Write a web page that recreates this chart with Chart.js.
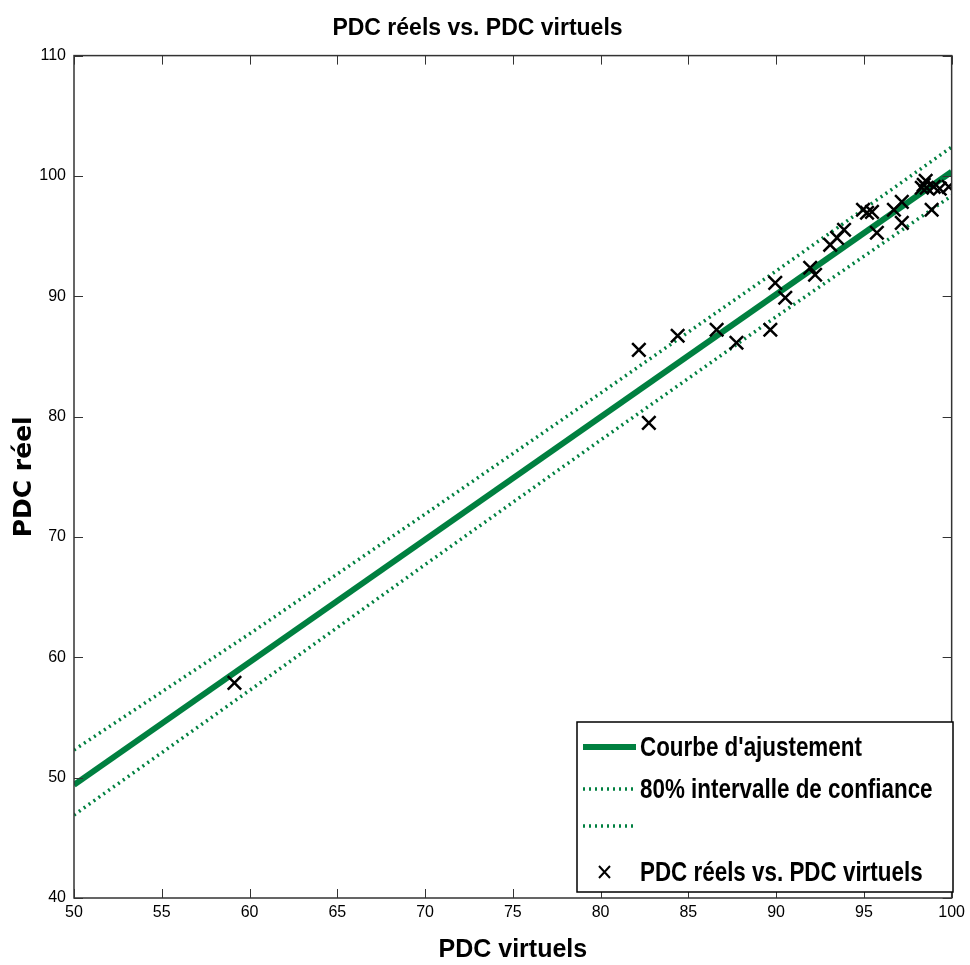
<!DOCTYPE html>
<html>
<head>
<meta charset="utf-8">
<script src="https://cdn.jsdelivr.net/npm/chart.js@4.4.0/dist/chart.umd.min.js"></script>
<style>
  html, body { margin: 0; padding: 0; background: #fff; }
  #wrap { width: 970px; height: 965px; }
</style>
</head>
<body>
<div id="wrap"><canvas id="myChart" width="970" height="965"></canvas></div>
<script>
// data
const fitX = [50, 100];
const fitY = [49.4, 100.35];
const bandX = [50, 60, 70, 80, 90, 100];
const upperY = [52.3, 61.95, 71.9, 81.95, 92.1, 102.4];
const lowerY = [46.9, 57.25, 67.7, 78.05, 88.3, 98.35];
const virtuels = [59.14, 82.18, 82.75, 84.39, 86.61, 87.74, 89.67, 89.95, 90.52, 91.94, 92.22, 93.08, 93.47, 93.87,
                  94.95, 95.18, 95.46, 95.74, 96.71, 97.16, 97.16, 98.3, 98.41, 98.52, 98.58, 98.98, 98.86, 99.32, 99.83];
const reels = [57.87, 85.55, 79.48, 86.72, 87.22, 86.14, 87.22, 91.12, 89.88, 92.37, 91.79, 94.28, 94.86, 95.53,
               97.19, 96.94, 97.02, 95.28, 97.19, 97.85, 96.1, 99.02, 99.27, 99.6, 99.02, 99.1, 97.19, 98.94, 99.1];
const xTicks = [50, 55, 60, 65, 70, 75, 80, 85, 90, 95, 100];
const yTicks = [40, 50, 60, 70, 80, 90, 100, 110];

const green = '#008040';
const sans = '"Liberation Sans", Arial, sans-serif';

const pts = (xs, ys) => xs.map((x, i) => ({x: x, y: ys[i]}));

// box, inward ticks on four sides, legend inside the plot
const matlabLook = {
  id: 'matlabLook',
  afterDraw(chart) {
    const ctx = chart.ctx, a = chart.chartArea;
    const sx = chart.scales.x, sy = chart.scales.y;
    ctx.save();
    ctx.strokeStyle = '#333';
    ctx.lineWidth = 1.5;
    ctx.strokeRect(a.left, a.top, a.right - a.left, a.bottom - a.top);
    ctx.lineWidth = 1;
    ctx.beginPath();
    xTicks.forEach(v => {
      const p = Math.round(sx.getPixelForValue(v)) + 0.5;
      ctx.moveTo(p, a.bottom); ctx.lineTo(p, a.bottom - 9);
      ctx.moveTo(p, a.top); ctx.lineTo(p, a.top + 9);
    });
    yTicks.forEach(v => {
      const p = Math.round(sy.getPixelForValue(v)) + 0.5;
      ctx.moveTo(a.left, p); ctx.lineTo(a.left + 9, p);
      ctx.moveTo(a.right, p); ctx.lineTo(a.right - 9, p);
    });
    ctx.stroke();

    // legend
    const bx = 577, by = 722, bw = 376, bh = 170;
    ctx.fillStyle = '#fff';
    ctx.fillRect(bx, by, bw, bh);
    ctx.strokeStyle = '#000';
    ctx.lineWidth = 1.5;
    ctx.strokeRect(bx, by, bw, bh);
    const rows = [747, 789, 826, 872];
    chart.data.datasets.forEach((ds, i) => {
      const y = rows[i];
      ctx.save();
      if (ds.showLine) {
        ctx.strokeStyle = ds.borderColor;
        ctx.lineWidth = ds.borderWidth;
        ctx.setLineDash(ds.borderDash || []);
        ctx.beginPath();
        ctx.moveTo(583, y); ctx.lineTo(636, y);
        ctx.stroke();
      } else {
        ctx.strokeStyle = '#000';
        ctx.lineWidth = 2;
        ctx.beginPath();
        ctx.moveTo(599, y - 6); ctx.lineTo(610, y + 6);
        ctx.moveTo(610, y - 6); ctx.lineTo(599, y + 6);
        ctx.stroke();
      }
      ctx.restore();
      if (ds.label) {
        // condensed bold text, as in the original
        ctx.save();
        ctx.translate(640, y + 1);
        ctx.scale(0.8, 1);
        ctx.font = 'bold 28px ' + sans;
        ctx.textBaseline = 'middle';
        ctx.textAlign = 'left';
        ctx.fillStyle = '#000';
        ctx.fillText(ds.label, 0, 0);
        ctx.restore();
      }
    });
    ctx.restore();
  }
};

const ctx = document.getElementById('myChart').getContext('2d');
new Chart(ctx, {
  type: 'scatter',
  data: {
    datasets: [
      {label: "Courbe d'ajustement", data: pts(fitX, fitY), showLine: true, borderColor: green,
       borderWidth: 6, pointRadius: 0, order: 3},
      {label: '80% intervalle de confiance', data: pts(bandX, upperY), showLine: true, borderColor: green,
       borderWidth: 3.5, borderDash: [2, 4], pointRadius: 0, order: 2},
      {label: '', data: pts(bandX, lowerY), showLine: true, borderColor: green,
       borderWidth: 3.5, borderDash: [2, 4], pointRadius: 0, order: 2},
      {label: 'PDC réels vs. PDC virtuels', data: pts(virtuels, reels), showLine: false,
       pointStyle: 'crossRot', pointRadius: 9.5, pointBorderWidth: 2.5, borderColor: '#000',
       backgroundColor: '#000', order: 1}
    ]
  },
  options: {
    responsive: false,
    animation: false,
    layout: {padding: {left: 0, right: 15, top: 0, bottom: 0}},
    plugins: {
      legend: {display: false},
      tooltip: {enabled: false},
      title: {
        display: true,
        text: 'PDC réels vs. PDC virtuels',
        color: '#000',
        font: {family: sans, size: 23, weight: 'bold'},
        padding: {top: 15, bottom: 13}
      }
    },
    scales: {
      x: {
        type: 'linear', min: 50, max: 100,
        afterBuildTicks: s => { s.ticks = xTicks.map(v => ({value: v})); },
        afterFit: s => { s.height = 67; },
        grid: {display: false, drawTicks: false},
        border: {display: false},
        ticks: {color: '#000', padding: 5, font: {family: sans, size: 16}, maxRotation: 0},
        title: {display: true, text: 'PDC virtuels', color: '#000',
                font: {family: sans, size: 25, weight: 'bold'}, padding: {top: 4, bottom: 0}}
      },
      y: {
        type: 'linear', min: 40, max: 110,
        afterBuildTicks: s => { s.ticks = yTicks.map(v => ({value: v})); },
        afterFit: s => { s.width = 74; },
        grid: {display: false, drawTicks: false},
        border: {display: false},
        ticks: {color: '#000', padding: 8, font: {family: sans, size: 16}},
        title: {display: true, text: 'PDC réel', color: '#000',
                font: {family: 'DejaVu Sans', size: 25, weight: 'bold'}, padding: {top: 9, bottom: 0}}
      }
    }
  },
  plugins: [matlabLook]
});
</script>
</body>
</html>
